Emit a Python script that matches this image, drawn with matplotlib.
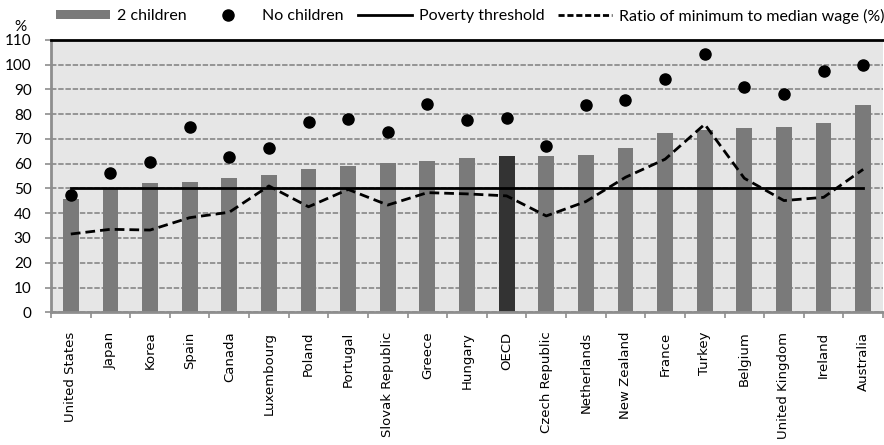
import matplotlib
matplotlib.use("Agg")
import matplotlib.pyplot as plt
from matplotlib.lines import Line2D
from matplotlib.patches import Patch
from matplotlib.ticker import FixedLocator
import numpy as np

countries = ["United States", "Japan", "Korea", "Spain", "Canada", "Luxembourg",
             "Poland", "Portugal", "Slovak Republic", "Greece", "Hungary", "OECD",
             "Czech Republic", "Netherlands", "New Zealand", "France", "Turkey",
             "Belgium", "United Kingdom", "Ireland", "Australia"]
two_children = [45.7, 50.0, 52.1, 52.7, 54.3, 55.4, 58.0, 58.9, 60.1, 61.1, 62.2, 63.1,
                63.1, 63.4, 66.2, 72.3, 73.6, 74.3, 74.9, 76.5, 83.7]
no_children = [47.4, 56.4, 60.8, 74.7, 62.6, 66.3, 76.8, 77.9, 72.8, 84.1, 77.6, 78.6,
               67.3, 83.6, 85.7, 94.3, 104.3, 90.8, 88.0, 97.3, 99.7]
min_median_ratio = [31.6, 33.5, 33.2, 38.2, 40.4, 51.0, 42.6, 49.6, 43.3, 48.3, 47.8, 47.0,
                    38.9, 44.7, 54.5, 61.8, 75.9, 54.1, 45.1, 46.4, 57.7]
poverty_threshold = 50
y_ticks = list(range(0, 111, 10))

bar_grey = "#7a7a7a"
oecd_grey = "#333333"
axis_grey = "#8e8e8e"

fig = plt.figure(figsize=(8.84, 4.45), dpi=100)
ax = fig.add_axes([51 / 884, 1 - 312.3 / 445, 832 / 884, 272.5 / 445])
ax.set_facecolor("#e6e6e6")

x = np.arange(len(countries))
colors = [oecd_grey if c == "OECD" else bar_grey for c in countries]
ax.bar(x, two_children, width=0.4, color=colors, zorder=2)
ax.plot(x, no_children, "o", color="black", markersize=8, zorder=4, linestyle="none")
ax.plot([x[0], x[-1]], [poverty_threshold, poverty_threshold], color="black", lw=2, zorder=3)
ax.plot(x, min_median_ratio, color="black", lw=2, linestyle=(0, (3.5, 1.8)), zorder=3)

ax.set_xlim(-0.5, len(countries) - 0.5)
ax.set_ylim(0, 110)
ax.set_yticks(y_ticks)
ax.yaxis.grid(True, color=axis_grey, linestyle=(0, (3, 1)), lw=1.3, zorder=1)
ax.set_axisbelow(True)

# names hang from the axis at category centres; tick marks sit on category boundaries
ax.set_xticks(x)
ax.set_xticklabels(countries, rotation=90, fontsize=9.5, family="DejaVu Sans",
                   color="black", ha="right", va="center", rotation_mode="anchor")
ax.xaxis.set_minor_locator(FixedLocator(np.arange(len(countries) + 1) - 0.5))
ax.tick_params(axis="x", which="major", length=0, pad=14)
ax.tick_params(axis="x", which="minor", length=4, width=1.2, color=axis_grey, direction="out")
ax.tick_params(axis="y", length=4, width=1.2, color=axis_grey, direction="out", pad=10)
for lab in ax.get_yticklabels():
    lab.set_fontsize(11)
    lab.set_family("Lato")

for side in ["left", "bottom"]:
    ax.spines[side].set_color(axis_grey)
    ax.spines[side].set_linewidth(2)
ax.spines["right"].set_visible(False)
ax.spines["top"].set_color("black")
ax.spines["top"].set_linewidth(2)

fig.text(20 / 884, 1 - 27 / 445, "%", fontsize=11, family="Lato", ha="center", va="center")

# legend: one entry per box so each key starts where it should along the top row
handles = [
    Patch(facecolor=bar_grey, edgecolor="none"),
    Line2D([], [], marker="o", color="black", linestyle="none", markersize=8),
    Line2D([], [], color="black", lw=2),
    Line2D([], [], color="black", lw=2, linestyle=(0, (2.2, 1.0))),
]
labels = ["2 children", "No children", "Poverty threshold", "Ratio of minimum to median wage (%)"]
key_left_px = [56, 201, 358, 558]
for h, lab, left in zip(handles, labels, key_left_px):
    fig.legend([h], [lab], loc="center left", bbox_to_anchor=(left / 884, 1 - 16 / 445),
               borderaxespad=0, borderpad=0, frameon=False, handlelength=3.4,
               handleheight=0.5, handletextpad=0.4, prop={"family": "Lato", "size": 11.5})

fig.savefig("out.png", dpi=100)
